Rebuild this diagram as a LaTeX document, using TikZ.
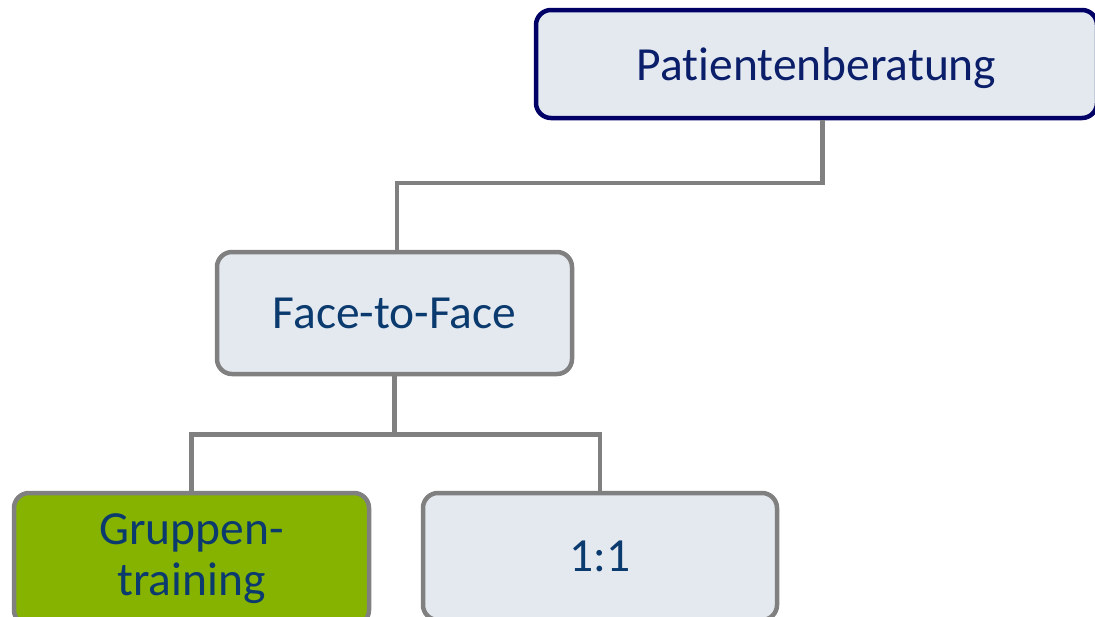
\documentclass[tikz,border=0pt]{standalone}
\usepackage{fontspec}
\setmainfont{Carlito}[Ligatures=NoCommon]
\definecolor{navyb}{HTML}{000066}
\definecolor{txtb}{HTML}{0A1E6A}
\definecolor{txtc}{HTML}{0B3A6E}
\definecolor{lgray}{HTML}{808080}
\definecolor{dotfill}{HTML}{E4E9F0}
\definecolor{grn}{HTML}{86B300}
\begin{document}
\begin{tikzpicture}[x=1pt,y=-1pt,
  box/.style={draw=lgray,line width=4.5pt,rounded corners=15pt,fill=dotfill,
    minimum width=355pt,inner sep=0pt,align=center,text=txtc,
    font=\fontsize{47.5}{51}\selectfont},
  topbox/.style={box,draw=navyb,text=txtb,line width=4.5pt},
  link/.style={draw=lgray,line width=4.5pt}]
\useasboundingbox (0,0) rectangle (1095,616);
\node[topbox,minimum width=561pt,minimum height=108pt,text height=42pt,text depth=10pt] (pb) at (816.5,64) {Patientenberatung};
\node[box,minimum height=122pt] (ff) at (394.5,313) {Face-to-Face};
\node[box,fill=grn,minimum height=132pt] (gt) at (191.5,559) {Gruppen-\\training};
\node[box,minimum height=127pt,minimum width=354pt] (oo) at (600,556.5) {1:1};
\draw[link] ([xshift=6pt]pb.south) |- (397,183) coordinate (m1) -- ([xshift=2.5pt]ff.north);
\draw[link] (ff.south) -- ++(0,58) coordinate (m2);
\draw[link] (gt.north) |- (m2) -| (oo.north);
\end{tikzpicture}
\end{document}
